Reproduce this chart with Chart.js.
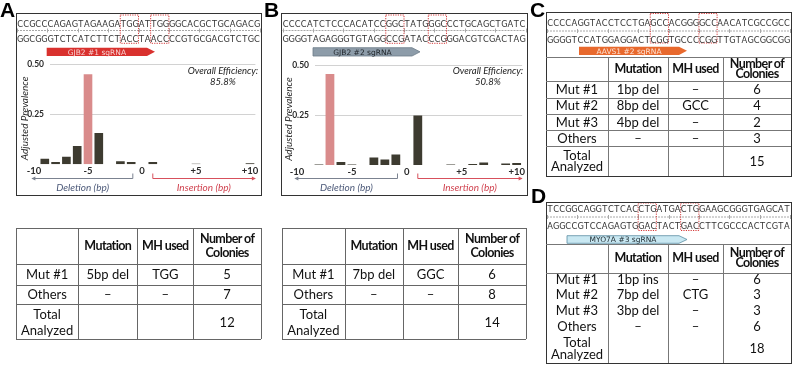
<!DOCTYPE html>
<html><head><meta charset="utf-8">
<script src="https://cdn.jsdelivr.net/npm/chart.js@4.4.0/dist/chart.umd.min.js"></script>
<style>
html,body{margin:0;padding:0;background:#fff;}
#root{position:relative;width:792px;height:365px;overflow:hidden;font-family:Lato,"Open Sans",sans-serif;background:#fff;}
.lbl{position:absolute;font:bold 21px "Liberation Sans",Arial,sans-serif;color:#000;line-height:20px;}
.box{position:absolute;border:1.5px solid #333;box-sizing:border-box;}
.seqc{position:absolute;width:6.075px;text-align:center;font:8.3px "DejaVu Sans",sans-serif;color:#333;line-height:10px;height:10px;}
.cell{position:absolute;display:flex;align-items:center;justify-content:center;text-align:center;color:#111;white-space:pre-line;}
.ln{position:absolute;}
canvas{position:absolute;}
svg{position:absolute;left:0;top:0;}
</style></head>
<body><div id="root">
<canvas id="chartA" width="243" height="137" style="left:17px;top:57px;width:243px;height:137px"></canvas>
<canvas id="chartB" width="244" height="137" style="left:282px;top:57px;width:244px;height:137px"></canvas>
</div>
<script>
// ---------------- data ----------------
const bpCategories = [-10,-9,-8,-7,-6,-5,-4,-3,-2,-1,0,1,2,3,4,5,6,7,8,9,10];
const prevalenceA = [0,0.028,0.012,0.038,0.092,0.45,0.157,0,0.015,0.012,0,0.012,0,0,0,0.003,0,0,0,0,0.005];
const prevalenceB = [0,0,0.003,0.455,0.015,0.002,0,0.038,0.028,0.053,0,0.247,0,0,0.002,0,0.005,0.012,0,0.007,0.01];
const mainIndelA = -5;
const mainIndelB = -7;
const yTickValues = [0.25, 0.5];
const xTickLabelsShown = [-10,-5,0,5,10];
const efficiencyA = '85.8%';
const efficiencyB = '50.8%';
const seqA = ['CCGCCCAGAGTAGAAGATGGATTGGGGCACGCTGCAGACG','GGCGGGTCTCATCTTCTACCTAACCCCGTGCGACGTCTGC'];
const seqB = ['CCCCATCTCCCACATCCGGCTATGGGCCCTGCAGCTGATC','GGGGTAGAGGGTGTAGGCCGATACCCGGGACGTCGACTAG'];
const seqC = ['CCCCAGGTACCTCCTGAGCCACGGGGCCAACATCGCCGCC','GGGGTCCATGGAGGACTCGGTGCCCCGGTTGTAGCGGCGG'];
const seqD = ['TCCGGCAGGTCTCACCTGATGACTGGAAGCGGGTGAGCAT','AGGCCGTCCAGAGTGGACTACTGACCTTCGCCCACTCGTA'];
const pamBoxesA = [17,22], pamBoxesB = [17,24], pamBoxesC = [17,25], pamBoxesD = [15,22];
const sgRNANames = ['GJB2 #1 sgRNA','GJB2 #2 sgRNA','AAVS1 #2 sgRNA','MYO7A #3 sgRNA'];
const tableHeader = ['', 'Mutation', 'MH used', 'Number of\nColonies'];
const tableA = [['Mut #1','5bp del','TGG','5'],['Others','–','–','7'],['Total\nAnalyzed','','','12']];
const tableB = [['Mut #1','7bp del','GGC','6'],['Others','–','–','8'],['Total\nAnalyzed','','','14']];
const tableC = [['Mut #1','1bp del','–','6'],['Mut #2','8bp del','GCC','4'],['Mut #3','4bp del','–','2'],['Others','–','–','3'],['Total\nAnalyzed','','','15']];
const tableD = [['Mut #1','1bp ins','–','6'],['Mut #2','7bp del','CTG','3'],['Mut #3','3bp del','–','3'],['Others','–','–','6'],['Total\nAnalyzed','','','18']];

// ---------------- layout helpers ----------------
const root = document.getElementById('root');
const NS = 'http://www.w3.org/2000/svg';
const svg = document.createElementNS(NS,'svg');
svg.setAttribute('width','792'); svg.setAttribute('height','365');
root.appendChild(svg);
function sv(tag, attrs){const e=document.createElementNS(NS,tag);for(const k in attrs)e.setAttribute(k,attrs[k]);svg.appendChild(e);return e;}
function div(cls, style, text){const d=document.createElement('div');d.className=cls;Object.assign(d.style,style);if(text!==undefined)d.textContent=text;root.appendChild(d);return d;}

function panelLabel(t,x,y){div('lbl',{left:x+'px',top:y+'px'},t);}
function box(x1,y1,x2,y2){div('box',{left:x1+'px',top:y1+'px',width:(x2-x1)+'px',height:(y2-y1)+'px'});}

const CW = 6.075;
function sequence(rows, x0, y1, y2, yr, boxes, by1, by2){
  [y1,y2].forEach((yc,ri)=>{
    const s = rows[ri];
    for(let i=0;i<s.length;i++) div('seqc',{left:(x0+i*CW)+'px',top:(yc-5)+'px'},s[i]);
  });
  const xe = x0 + rows[0].length*CW;
  sv('line',{x1:x0,y1:yr+0.5,x2:xe,y2:yr+0.5,stroke:'#a8a8a8','stroke-width':1,'stroke-dasharray':'2 1'});
  for(let i=0;i<=rows[0].length;i+=5){
    const xx = Math.round(x0+i*CW)+0.5;
    sv('line',{x1:xx,y1:yr-1.5,x2:xx,y2:yr+2.5,stroke:'#a8a8a8','stroke-width':1});
  }
  boxes.forEach(b=>{
    sv('rect',{x:x0+b*CW,y:by1,width:3*CW,height:by2-by1,fill:'none',stroke:'#d43a3a','stroke-width':1,'stroke-dasharray':'1.2 1.2'});
  });
}
function sgArrow(x1,x2,y1,y2,fill,stroke,text,tcolor){
  const tip=8, ym=(y1+y2)/2;
  sv('polygon',{points:`${x1},${y1} ${x2-tip},${y1} ${x2},${ym} ${x2-tip},${y2} ${x1},${y2}`,fill:fill,stroke:stroke,'stroke-width':stroke==='none'?0:0.8});
  const t=sv('text',{x:(x1+x2-tip)/2,y:ym+2.8,'text-anchor':'middle','font-family':'DejaVu Sans, sans-serif','font-size':'7.5',fill:tcolor});
  t.textContent=text;
}
function buildTable(colX,rowY,header,rows,o){
  const all=[header,...rows];
  colX.forEach((x,i)=>{
    if(o.skipOuterV && (i===0||i===colX.length-1)) return;
    div('ln',{left:Math.round(x)+'px',top:rowY[0]+'px',width:'1px',height:(rowY[rowY.length-1]-rowY[0])+'px',background:o.lineColor});
  });
  rowY.forEach((y,i)=>{
    if(!o.hLines.includes(i)) return;
    div('ln',{left:colX[0]+'px',top:Math.round(y)+'px',width:(colX[colX.length-1]-colX[0])+'px',height:'1px',background:o.lineColor});
  });
  all.forEach((r,ri)=>r.forEach((txt,ci)=>{
    const isH = ri===0;
    div('cell',{left:colX[ci]+'px',top:rowY[ri]+'px',width:(colX[ci+1]-colX[ci])+'px',height:(rowY[ri+1]-rowY[ri])+'px',
      font:(isH?'bold ':'')+(isH?o.hSize:o.size)+'px Lato, "Open Sans", sans-serif',lineHeight:(isH?o.hLH:o.lh)+'px',
      letterSpacing:isH?'-0.6px':'0px'},txt);
  }));
}

// ---------------- panels ----------------
panelLabel('A',0,0); panelLabel('B',264,0); panelLabel('C',530,0); panelLabel('D',531,186);
box(16,12.5,262,196); box(281,12.5,528,196); box(546,11.5,792,177); box(546,201.5,792,364);

sequence(seqA,17,23.7,39.3,30,pamBoxesA,15,43.3);
sequence(seqB,282.5,23.7,39.3,30,pamBoxesB,15,43.3);
sequence(seqC,547,23.3,39.7,30.5,pamBoxesC,13.5,43);
sequence(seqD,547,208.7,225.5,216.5,pamBoxesD,203,230.5);

sgArrow(46.7,155,47.7,56,'#d9312e','none',sgRNANames[0],'#f7d2d2');
sgArrow(313,420,47.7,56,'#8d9ca9','#6d7c89',sgRNANames[1],'#1e2328');
sgArrow(579,687,46.7,55,'#e8692d','none',sgRNANames[2],'#fde2d4');
sgArrow(567,687,235.7,243.3,'#c9e8f2','#5a8ea3',sgRNANames[3],'#1e2a30');

buildTable([16,78.3,137.3,193.3,261],[228.3,264.3,284.5,304.3,339.3],tableHeader,tableA,
  {lineColor:'#666',hLines:[0,1,2,3,4],size:13,hSize:12.5,lh:16,hLH:14});
buildTable([281.7,345,402.7,458.3,526],[228.3,264.3,284.5,304.3,339.3],tableHeader,tableB,
  {lineColor:'#666',hLines:[0,1,2,3,4],size:13,hSize:12.5,lh:16,hLH:14});
buildTable([546,608,668,723,791],[56.5,81.3,97.7,114.3,130,146,176],tableHeader,tableC,
  {lineColor:'#777',hLines:[0,1,2,3,4,5],skipOuterV:true,size:13,hSize:12.5,lh:11,hLH:10});
buildTable([546,608,668,723,791],[243.5,272.7,287.3,303,318.7,334,363],tableHeader,tableD,
  {lineColor:'#777',hLines:[0,1],skipOuterV:true,size:13,hSize:12.5,lh:11.5,hLH:10});

// ---------------- charts ----------------
function fmtBp(v){return v>0?'+'+v:String(v);}
const decorPlugin = {
  id:'decor',
  beforeDatasetsDraw(chart,args,o){
    const {ctx,chartArea,scales:{y}} = chart;
    ctx.save();
    ctx.strokeStyle='#d2d2d2'; ctx.lineWidth=1;
    yTickValues.forEach(v=>{
      const py=Math.round(y.getPixelForValue(v))+0.5;
      ctx.beginPath(); ctx.moveTo(o.gridStart,py); ctx.lineTo(chartArea.right,py); ctx.stroke();
    });
    ctx.restore();
  },
  afterDraw(chart,args,o){
    const {ctx,chartArea,scales:{x,y}} = chart;
    ctx.save();
    ctx.fillStyle='#2a2a2a'; ctx.font='bold 8.5px Lato, sans-serif'; ctx.textAlign='right'; ctx.textBaseline='middle';
    yTickValues.forEach(v=>ctx.fillText(v.toFixed(2),o.labelRight,y.getPixelForValue(v)));
    ctx.save(); ctx.translate(o.titleX,(chartArea.top+chartArea.bottom)/2+4); ctx.rotate(-Math.PI/2);
    ctx.font='italic 10px Lato, sans-serif'; ctx.textAlign='center'; ctx.fillStyle='#2a2a2a';
    ctx.fillText('Adjusted Prevalence',0,0); ctx.restore();
    ctx.font='italic 9.5px Lato, sans-serif'; ctx.textAlign='center'; ctx.fillStyle='#1a1a1a';
    ctx.fillText('Overall Efficiency:',o.effX,14);
    ctx.fillText(o.eff,o.effX,24.5);
    const ly=121.5, cx=i=>x.getPixelForValue(i);
    const idx=v=>bpCategories.indexOf(v);
    const step=cx(1)-cx(0);
    const dA=cx(idx(-10))-0.15*step, dB=cx(idx(-1))+0.15*step;
    const iA=cx(idx(1)), iB=cx(idx(10))+0.45*step;
    ctx.lineWidth=1;
    ctx.strokeStyle='#7b8290'; ctx.fillStyle='#7b8290';
    ctx.beginPath(); ctx.moveTo(dA,ly); ctx.lineTo(dB,ly); ctx.lineTo(dB,ly-5); ctx.stroke();
    ctx.beginPath(); ctx.moveTo(dA-1,ly); ctx.lineTo(dA+3,ly-2); ctx.lineTo(dA+3,ly+2); ctx.closePath(); ctx.fill();
    ctx.strokeStyle='#d7505c'; ctx.fillStyle='#d7505c';
    ctx.beginPath(); ctx.moveTo(iA,ly-5); ctx.lineTo(iA,ly); ctx.lineTo(iB,ly); ctx.stroke();
    ctx.beginPath(); ctx.moveTo(iB+1,ly); ctx.lineTo(iB-3,ly-2); ctx.lineTo(iB-3,ly+2); ctx.closePath(); ctx.fill();
    ctx.font='italic 10px Lato, sans-serif'; ctx.textBaseline='middle';
    ctx.fillStyle='#4b5878'; ctx.fillText('Deletion (bp)',(dA+dB)/2,130.5);
    ctx.fillStyle='#cf3f4c'; ctx.fillText('Insertion (bp)',(iA+iB)/2,130.5);
    ctx.restore();
  }
};
function makeChart(id,values,mainIndel,geom){
  const colors = bpCategories.map(c=>c===mainIndel?'#d98b8b':'#3d3b30');
  return new Chart(document.getElementById(id),{
    type:'bar',
    data:{labels:bpCategories.map(String),datasets:[{data:values,backgroundColor:colors,borderWidth:0,barPercentage:0.8,categoryPercentage:1}]},
    options:{
      responsive:false,animation:false,devicePixelRatio:1,
      layout:{padding:{left:geom.l,right:geom.r,top:geom.t,bottom:geom.b}},
      plugins:{legend:{display:false},tooltip:{enabled:false},
        decor:{gridStart:geom.gridStart,labelRight:27,titleX:geom.titleX,effX:206,eff:geom.eff}},
      scales:{
        x:{type:'category',offset:true,grid:{display:false,drawTicks:false},border:{display:false},
          ticks:{autoSkip:false,maxRotation:0,minRotation:0,padding:1,color:'#2a2a2a',font:{family:'Lato',weight:'bold',size:9.5},
            callback:(v,i)=>xTickLabelsShown.includes(bpCategories[i])?fmtBp(bpCategories[i]):''},
          afterFit:s=>{s.height=12;}},
        y:{display:false,min:0,max:0.5}
      }
    },
    plugins:[decorPlugin]
  });
}
makeChart('chartA',prevalenceA,mainIndelA,{l:11.6,r:4.6,t:7.3,b:17.7,gridStart:33,titleX:8,eff:efficiencyA});
makeChart('chartB',prevalenceB,mainIndelB,{l:9.5,r:3.5,t:8,b:17,gridStart:33,titleX:7,eff:efficiencyB});
</script>
</body></html>
